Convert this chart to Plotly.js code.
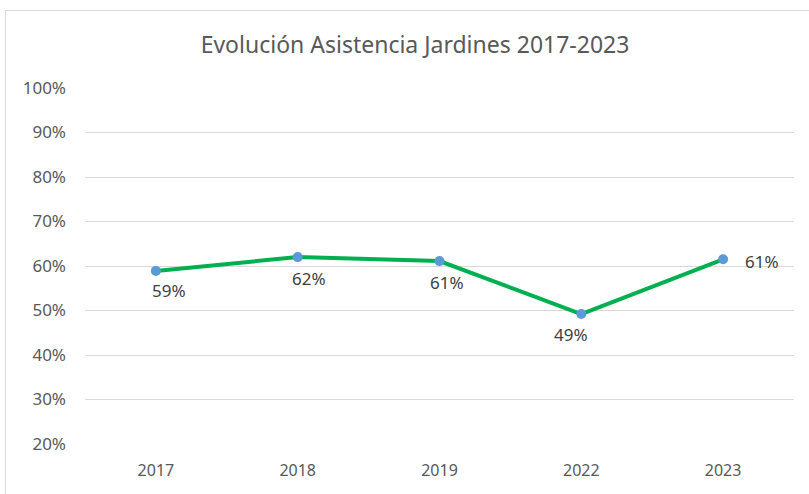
<!DOCTYPE html>
<html>
<head>
<meta charset="utf-8">
<script src="https://cdn.plot.ly/plotly-3.0.1.min.js"></script>
<style>
html,body{margin:0;padding:0;background:#fff;}
#wrap{position:relative;width:809px;height:494px;overflow:hidden;}
#chart{width:809px;height:494px;}
#frame{position:absolute;left:5px;top:10px;width:820px;height:500px;border:1px solid #D9D9D9;pointer-events:none;box-sizing:border-box;}
</style>
</head>
<body>
<div id="wrap">
<div id="chart"></div>
<div id="frame"></div>
</div>
<script>
var years = ["2017", "2018", "2019", "2022", "2023"];
var attendance = [0.589, 0.620, 0.611, 0.492, 0.615];
var labels = ["59%", "62%", "61%", "49%", "61%"];
var yTicks = [0.2, 0.3, 0.4, 0.5, 0.6, 0.7, 0.8, 0.9, 1.0];
var yTickText = ["20%", "30%", "40%", "50%", "60%", "70%", "80%", "90%", "100%"];

// label placement offsets (pixels) for each data label
var labelStyle = [
  {xshift: 13, yshift: -20, xanchor: "center"},
  {xshift: 11, yshift: -21, xanchor: "center"},
  {xshift: 7, yshift: -21, xanchor: "center"},
  {xshift: -10, yshift: -20, xanchor: "center"},
  {xshift: 20, yshift: -2, xanchor: "left"}
];

var font = "Noto Sans, sans-serif";

var trace = {
  x: years,
  y: attendance,
  type: "scatter",
  mode: "lines+markers",
  line: {color: "#00B050", width: 4},
  marker: {color: "#5B9BD5", size: 10},
  cliponaxis: false,
  hoverinfo: "skip"
};

var annotations = years.map(function (yr, i) {
  return {
    x: i, y: attendance[i], xref: "x", yref: "y",
    text: labels[i], showarrow: false,
    xanchor: labelStyle[i].xanchor, yanchor: "middle",
    xshift: labelStyle[i].xshift, yshift: labelStyle[i].yshift,
    font: {family: font, size: 17, color: "#404040"}
  };
});

var layout = {
  width: 809,
  height: 494,
  margin: {l: 85, r: 15, t: 88, b: 50},
  paper_bgcolor: "#ffffff",
  plot_bgcolor: "#ffffff",
  showlegend: false,
  annotations: annotations,
  title: {
    text: "Evolución Asistencia Jardines 2017-2023",
    font: {family: font, size: 23, color: "#595959"},
    xref: "container", x: 0.513, xanchor: "center",
    yref: "container", y: 0.909, yanchor: "middle"
  },
  xaxis: {
    type: "category",
    range: [-0.5, 4.5],
    showgrid: false,
    zeroline: false,
    showline: false,
    ticks: "",
    tickfont: {family: font, size: 16, color: "#595959"},
    ticklabelstandoff: 15,
    fixedrange: true
  },
  yaxis: {
    range: [0.2, 1.0],
    tickvals: yTicks,
    ticktext: yTickText,
    showgrid: true,
    gridcolor: "#D9D9D9",
    gridwidth: 1,
    zeroline: false,
    showline: false,
    ticks: "",
    tickfont: {family: font, size: 17, color: "#595959"},
    ticklabelstandoff: 18,
    fixedrange: true
  }
};

Plotly.newPlot("chart", [trace], layout, {displayModeBar: false, staticPlot: true});
</script>
</body>
</html>
